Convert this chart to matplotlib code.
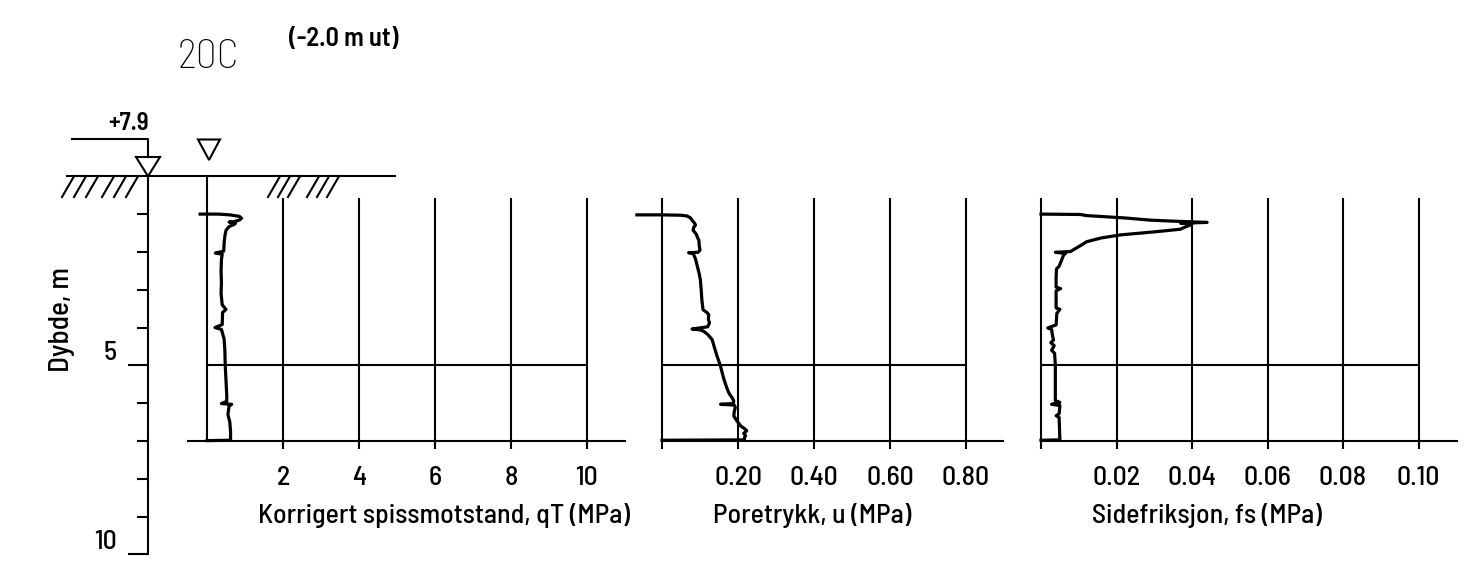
import numpy as np
import matplotlib
matplotlib.use("Agg")
import matplotlib.pyplot as plt
from matplotlib.patches import Polygon

plt.rcParams['font.family'] = ['Barlow Semi Condensed', 'Barlow Condensed', 'DejaVu Sans']
plt.rcParams['font.weight'] = 500

# ---- data (depth in m, values in MPa) ----
qt_depth = [1.00, 1.00, 1.02, 1.06, 1.11, 1.16, 1.20, 1.21, 1.24, 1.27, 1.33, 1.43,
            1.58, 1.77, 1.98, 2.03, 2.06, 2.2, 2.5, 2.8, 3.1, 3.4, 3.52, 3.6, 3.92,
            4.0, 4.05, 4.3, 4.6, 5.0, 5.4, 5.8, 5.95, 6.01, 6.03, 6.08, 6.3, 6.5,
            6.75, 6.95, 6.98, 6.99]
qt_vals = [-0.18, 0.30, 0.60, 0.85, 0.91, 0.85, 0.70, 0.58, 0.75, 0.72, 0.58, 0.50,
           0.47, 0.45, 0.44, 0.22, 0.40, 0.38, 0.37, 0.38, 0.37, 0.40, 0.50, 0.41, 0.40,
           0.21, 0.38, 0.45, 0.47, 0.48, 0.50, 0.52, 0.52, 0.38, 0.65, 0.58, 0.55, 0.60,
           0.62, 0.62, 0.62, 0.0]

u_depth = [1.02, 1.02, 1.03, 1.05, 1.10, 1.16, 1.23, 1.29, 1.36, 1.43, 1.53, 1.63,
           1.69, 1.83, 1.95, 2.01, 2.02, 2.04, 2.18, 2.38, 2.58, 2.74, 2.98, 3.28,
           3.53, 3.60, 3.66, 3.78, 3.88, 3.98, 4.04, 4.06, 4.10, 4.18, 4.32, 4.53,
           4.76, 5.02, 5.18, 5.37, 5.58, 5.73, 5.88, 5.95, 6.01, 6.03, 6.05, 6.11,
           6.23, 6.34, 6.48, 6.60, 6.68, 6.73, 6.80, 6.86, 6.91, 6.97, 6.98]
u_vals = [-0.066, 0.0, 0.05, 0.066, 0.075, 0.079, 0.085, 0.088, 0.083, 0.082, 0.090,
          0.094, 0.097, 0.098, 0.100, 0.095, 0.070, 0.082, 0.088, 0.093, 0.098, 0.101,
          0.103, 0.105, 0.108, 0.118, 0.123, 0.122, 0.125, 0.120, 0.079, 0.100, 0.110,
          0.120, 0.132, 0.138, 0.145, 0.154, 0.158, 0.163, 0.170, 0.176, 0.186, 0.189,
          0.187, 0.154, 0.190, 0.193, 0.190, 0.189, 0.198, 0.207, 0.218, 0.223, 0.215,
          0.220, 0.217, 0.217, 0.0]

fs_depth = [1.00, 1.01, 1.04, 1.10, 1.16, 1.19, 1.22, 1.24, 1.26, 1.29, 1.35, 1.40,
            1.47, 1.55, 1.63, 1.73, 1.80, 1.86, 1.93, 1.99, 2.01, 2.04, 2.08, 2.18,
            2.28, 2.38, 2.45, 2.70, 2.93, 2.97, 3.03, 3.48, 3.52, 3.62, 3.93, 4.01,
            4.05, 4.18, 4.33, 4.40, 4.48, 4.60, 4.68, 5.00, 5.50, 5.93, 5.98, 6.03,
            6.06, 6.28, 6.33, 6.38, 6.97, 6.98]
fs_vals = [0.0, 0.0104, 0.0122, 0.022, 0.029, 0.036, 0.044, 0.037, 0.040, 0.0395,
           0.038, 0.0369, 0.030, 0.021, 0.016, 0.0121, 0.011, 0.010, 0.0088, 0.0078,
           0.0038, 0.0065, 0.0060, 0.0056, 0.0052, 0.0048, 0.0041, 0.0040, 0.0040,
           0.0052, 0.0040, 0.0040, 0.0050, 0.0042, 0.0040, 0.0018, 0.0028, 0.0030,
           0.0033, 0.0026, 0.0035, 0.0028, 0.0036, 0.0038, 0.0038, 0.0038, 0.0050,
           0.0028, 0.0050, 0.0048, 0.0040, 0.0048, 0.0050, 0.0]

qt_ticks = [2, 4, 6, 8, 10]
u_ticks = [0, 0.2, 0.4, 0.6, 0.8]
u_labels = ['', '0.20', '0.40', '0.60', '0.80']
fs_ticks = [0, 0.02, 0.04, 0.06, 0.08, 0.10]
fs_labels = ['', '0.02', '0.04', '0.06', '0.08', '0.10']

# ---- layout in pixels ----
W, H, DPI = 1484, 572, 100
Y0, PXM = 176.3, 37.8          # depth 0 pixel row, pixels per metre
fig = plt.figure(figsize=(W / DPI, H / DPI), dpi=DPI)


def depth(ypx):
    return (ypx - Y0) / PXM


def px_axes(x0, x1, y0, y1):
    return fig.add_axes([x0 / W, 1 - y1 / H, (x1 - x0) / W, (y1 - y0) / H])


LW_GRID = 1.5
LW_CURVE = 2.3
FS = 20

# depth axis / ground symbols
axd = px_axes(0, 450, 0, H)
axd.set_xlim(0, 450)
axd.set_ylim(depth(H), depth(0))
axd.patch.set_visible(False)
for s in ['top', 'right', 'bottom']:
    axd.spines[s].set_visible(False)
axd.spines['left'].set_position(('data', 148))
axd.spines['left'].set_bounds(0, 10)
axd.spines['left'].set_linewidth(LW_GRID)
axd.set_xticks([])
axd.set_yticks([5, 10])
axd.set_yticklabels(['5', '10'], fontsize=20)
axd.set_yticks([1, 2, 3, 4, 6, 7, 8, 9], minor=True)
axd.tick_params(axis='y', which='major', length=14.4, width=LW_GRID, pad=8)
axd.tick_params(axis='y', which='minor', length=8, width=LW_GRID)
for lbl in axd.get_yticklabels():
    lbl.set_va('bottom')
axd.text(62, depth(320), 'Dybde, m', rotation=90, ha='center', va='center', fontsize=21)

# ground line and hatching
axd.plot([67, 395], [0, 0], color='black', lw=LW_GRID)
for xb in [62, 74, 86, 102, 114, 126, 268, 278, 288, 307, 317, 327]:
    axd.plot([xb, xb + 12], [depth(197), 0], color='black', lw=LW_GRID)

# elevation marker
axd.plot([72, 148, 148], [depth(139), depth(139), depth(157)], color='black', lw=LW_GRID)
axd.add_patch(Polygon([[136, depth(157)], [160, depth(157)], [148, 0]], closed=True,
                      fill=False, ec='black', lw=LW_GRID))
axd.add_patch(Polygon([[198, depth(139.5)], [220, depth(139.5)], [209, depth(160)]],
                      closed=True, fill=False, ec='black', lw=LW_GRID))
axd.text(129, depth(123), '+7.9', ha='center', va='center', fontsize=18, fontweight='semibold')

fig.text(208 / W, 1 - 58 / H, '20C', ha='center', va='center', fontsize=30, fontweight='light')
fig.text(344 / W, 1 - 39 / H, '(-2.0 m ut)', ha='center', va='center', fontsize=19,
         fontweight='semibold')


def panel(x0px, x1px, zero_px, px_per_unit, ticks, labels, xmax, xlabel, d, v, zero_line=False):
    ax = px_axes(x0px - 4, x1px, 198, 441)
    ax.set_xlim((x0px - 4 - zero_px) / px_per_unit, (x1px - zero_px) / px_per_unit)
    ax.set_ylim(7.0, depth(198))
    ax.patch.set_visible(False)
    for s in ['top', 'right', 'left']:
        ax.spines[s].set_visible(False)
    ax.spines['bottom'].set_linewidth(LW_GRID)
    ax.spines['bottom'].set_bounds((x0px - zero_px) / px_per_unit, (x1px - zero_px) / px_per_unit)
    ax.set_yticks([])
    ax.set_xticks(ticks)
    ax.set_xticklabels(labels, fontsize=FS)
    ax.tick_params(axis='x', length=5.8, width=LW_GRID, pad=12)
    ax.grid(axis='x', color='black', lw=LW_GRID)
    ax.hlines(5, 0, xmax, color='black', lw=LW_GRID)
    if zero_line:
        ax.vlines(0, 0, 7, color='black', lw=LW_GRID, clip_on=False)
    ax.plot(v, d, color='black', lw=LW_CURVE, clip_on=False, solid_joinstyle='round')
    fig.text((zero_px + 51) / W, 1 - 515 / H, xlabel, ha='left', va='center', fontsize=FS)
    return ax


panel(188, 625, 207, 38.0, qt_ticks, [str(t) for t in qt_ticks], 10,
      'Korrigert spissmotstand, qT (MPa)', qt_depth, qt_vals, zero_line=True)
panel(662, 1003, 662, 380.0, u_ticks, u_labels, 0.8,
      'Poretrykk, u (MPa)', u_depth, u_vals)
panel(1041, 1457, 1041, 3775.0, fs_ticks, fs_labels, 0.10,
      'Sidefriksjon, fs (MPa)', fs_depth, fs_vals)

fig.savefig('out.png', dpi=DPI)
